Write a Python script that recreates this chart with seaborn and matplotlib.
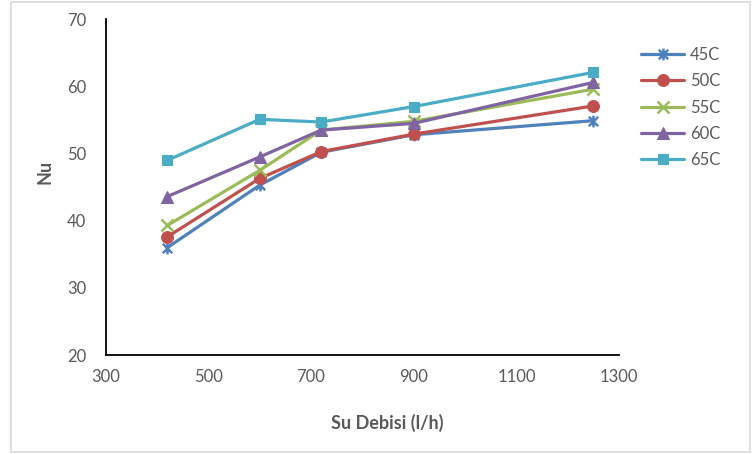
import matplotlib
matplotlib.use("Agg")
import matplotlib.pyplot as plt
import matplotlib.patches as mpatches
from matplotlib.path import Path
import seaborn as sns
import pandas as pd

# Water flow rate (l/h) and Nusselt number for each inlet temperature
flow_rates = [420, 600, 720, 900, 1250]
series_names = ["45C", "50C", "55C", "60C", "65C"]
nu_45 = [36.0, 45.3, 50.2, 52.8, 54.9]
nu_50 = [37.6, 46.3, 50.3, 52.9, 57.1]
nu_55 = [39.3, 47.5, 53.5, 54.8, 59.6]
nu_60 = [43.6, 49.5, 53.5, 54.5, 60.6]
nu_65 = [49.0, 55.1, 54.7, 57.0, 62.1]
x_ticks = [300, 500, 700, 900, 1100, 1300]
y_ticks = [20, 30, 40, 50, 60, 70]

colors = ["#4F81BD", "#C0504D", "#9BBB59", "#8064A2", "#4BACC6"]

# Star marker: an "x" with a vertical stroke through it
star_path = Path(
    [(-1, -1), (1, 1), (-1, 1), (1, -1), (0, -1.25), (0, 1.25)],
    [Path.MOVETO, Path.LINETO, Path.MOVETO, Path.LINETO, Path.MOVETO, Path.LINETO],
)
markers = [star_path, "o", "x", "^", "s"]
marker_sizes = [8.5, 8.5, 8, 8, 7.5]

df = pd.DataFrame({
    "flow": flow_rates * 5,
    "nu": nu_45 + nu_50 + nu_55 + nu_60 + nu_65,
    "series": [n for n in series_names for _ in flow_rates],
})

sns.set_style("white")
plt.rcParams["font.family"] = ["Lato", "DejaVu Sans"]

fig = plt.figure(figsize=(7.55, 4.54), dpi=100)
ax = fig.add_axes([0.14, 0.218, 0.68, 0.7395])

for name, col, mk, ms in zip(series_names, colors, markers, marker_sizes):
    sub = df[df["series"] == name]
    sns.lineplot(
        data=sub, x="flow", y="nu", ax=ax, color=col, marker=mk,
        markersize=ms, markeredgecolor=col, markerfacecolor=col,
        markeredgewidth=1.8 if mk in ("x",) or isinstance(mk, Path) else 0.8,
        linewidth=2.3, label=name,
    )

ax.set_xlim(300, 1300)
ax.set_ylim(20, 70)
ax.set_xticks(x_ticks)
ax.set_yticks(y_ticks)
ax.tick_params(axis="both", length=0, labelsize=12, colors="#595959")
ax.tick_params(axis="y", pad=14)
ax.tick_params(axis="x", pad=10)
for side in ("top", "right"):
    ax.spines[side].set_visible(False)
for side in ("left", "bottom"):
    ax.spines[side].set_color("black")
    ax.spines[side].set_linewidth(1.3)
ax.set_xlabel("")
ax.set_ylabel("")

fig.text(387 / 755, 1 - 423 / 454, "Su Debisi (l/h)", ha="center", va="center",
         fontsize=13, fontweight="bold", color="#595959")
fig.text(45 / 755, 1 - 172 / 454, "Nu", ha="center", va="center", rotation=90,
         fontsize=13, fontweight="bold", color="#595959")

if ax.get_legend():
    ax.get_legend().remove()
handles, labels = ax.get_legend_handles_labels()
fig.legend(handles, labels, loc="upper left", bbox_to_anchor=(641 / 755, 1 - 47 / 454),
           frameon=False, fontsize=12, handlelength=2.6, handletextpad=0.35,
           labelspacing=0.62, borderpad=0, borderaxespad=0, labelcolor="#595959")

fig.patches.append(mpatches.Rectangle(
    (11 / 755, 1 - 451.5 / 454), 739 / 755, 450 / 454, transform=fig.transFigure,
    fill=False, edgecolor="#D9D9D9", linewidth=1.2))

fig.savefig("out.png", dpi=100)
